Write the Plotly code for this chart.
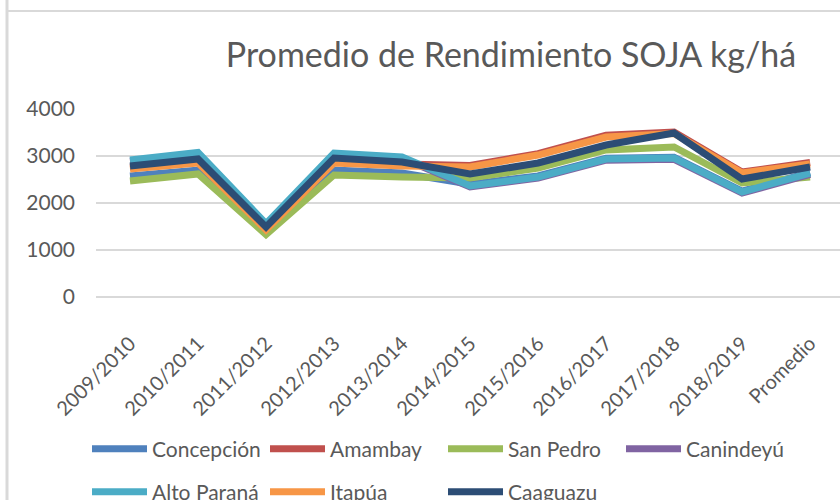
import plotly.graph_objects as go

categories = ["2009/2010", "2010/2011", "2011/2012", "2012/2013", "2013/2014",
              "2014/2015", "2015/2016", "2016/2017", "2017/2018", "2018/2019", "Promedio"]

concepcion = [2574, 2702, 1400, 2702, 2638, 2400, 2575, 2955, 2975, 2255, 2645]
amambay    = [2760, 2870, 1440, 2870, 2830, 2800, 3050, 3440, 3510, 2660, 2860]
san_pedro  = [2468, 2617, 1330, 2596, 2553, 2532, 2745, 3128, 3191, 2425, 2553]
canindeyu  = [2890, 3040, 1530, 3040, 2950, 2340, 2530, 2910, 2930, 2210, 2610]
alto_parana = [2915, 3075, 1560, 3064, 2979, 2362, 2553, 2936, 2957, 2234, 2638]
itapua     = [2723, 2851, 1430, 2851, 2787, 2766, 3021, 3404, 3480, 2638, 2830]
caaguazu   = [2787, 2936, 1490, 2957, 2872, 2617, 2851, 3234, 3489, 2510, 2766]

series_names = ["Concepción", "Amambay", "San Pedro", "Canindeyú",
                "Alto Paraná", "Itapúa", "Caaguazu"]
series_values = [concepcion, amambay, san_pedro, canindeyu, alto_parana, itapua, caaguazu]
colors = ["#4F81BD", "#C0504D", "#9BBB59", "#8064A2", "#4BACC6", "#F79646", "#2C4D75"]
legend_rows = ["legend", "legend", "legend", "legend", "legend2", "legend2", "legend2"]

TXT = "#595959"
FONT = "Lato"

fig = go.Figure()
for name, vals, col, lg in zip(series_names, series_values, colors, legend_rows):
    fig.add_trace(go.Scatter(x=categories, y=vals, mode="lines", name=name,
                             legend=lg, line=dict(color=col, width=7)))

# plot area geometry (pixels)
L, R, T, B = 96, 0, 109, 203
H = 500 - T - B
W = 840 - L - R

def px_x(px):
    return (px - L) / W

def px_y(py):
    return (500 - B - py) / H

legend_common = dict(orientation="h", xref="container", yref="container",
                     xanchor="left", yanchor="middle",
                     entrywidth=108, entrywidthmode="pixels", itemwidth=55,
                     font=dict(size=21, color=TXT, family=FONT),
                     bgcolor="rgba(0,0,0,0)")

fig.update_layout(
    width=840, height=500,
    margin=dict(l=L, r=R, t=T, b=B, pad=0),
    paper_bgcolor="white", plot_bgcolor="white",
    font=dict(family=FONT, color=TXT),
    title=dict(text="Promedio de Rendimiento SOJA kg/há",
               x=511 / 840, xanchor="center", y=1 - 55 / 500, yanchor="middle",
               font=dict(size=34, color=TXT, family=FONT)),
    xaxis=dict(type="category", range=[-0.5, 10.44], showgrid=False,
               showline=False, ticks="", tickangle=-45, automargin=False,
               tickfont=dict(size=20, color=TXT), ticklabelstandoff=30),
    yaxis=dict(range=[0, 4000], tickvals=[0, 1000, 2000, 3000, 4000],
               showgrid=True, gridcolor="#D9D9D9", gridwidth=2,
               zeroline=True, zerolinecolor="#D9D9D9", zerolinewidth=2,
               showline=False, ticks="", automargin=False,
               tickfont=dict(size=21, color=TXT), ticklabelstandoff=20),
    legend=dict(x=87 / 840, y=1 - 449 / 500, **legend_common),
    legend2=dict(x=87 / 840, y=1 - 492 / 500, **legend_common),
    showlegend=True,
)

# chart-area border lines (partially cropped frame)
fig.add_shape(type="line", xref="paper", yref="paper",
              x0=px_x(7), x1=px_x(7), y0=px_y(0), y1=px_y(500),
              line=dict(color="#D9D9D9", width=3), layer="below")
fig.add_shape(type="line", xref="paper", yref="paper",
              x0=px_x(7), x1=px_x(840), y0=px_y(11), y1=px_y(11),
              line=dict(color="#D9D9D9", width=2), layer="below")

fig.write_html("out.html", config={"displayModeBar": False},
               post_script="document.body.style.margin='0';")
